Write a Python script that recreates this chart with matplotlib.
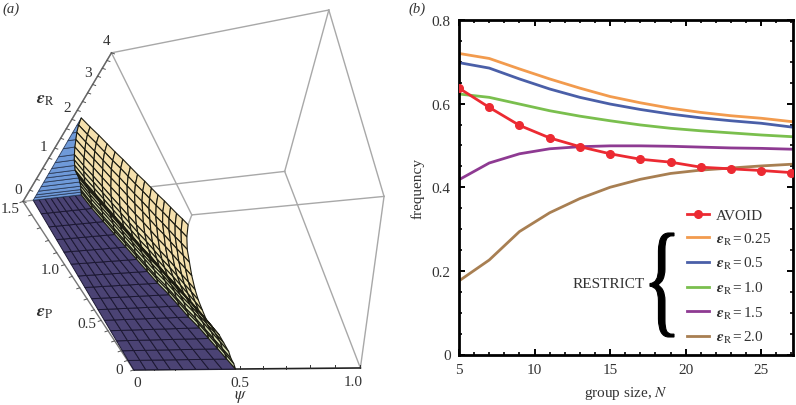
# coding=utf-8
# (a) 3D region plot drawn by hand with a fitted camera, (b) frequency vs group size
import matplotlib
matplotlib.use("Agg")
import matplotlib.pyplot as plt
import numpy as np
from matplotlib.collections import PolyCollection
from matplotlib.font_manager import FontProperties
from matplotlib.patches import PathPatch
from matplotlib.textpath import TextPath
from matplotlib.transforms import Affine2D
from matplotlib.ticker import MultipleLocator

plt.rcParams['font.family'] = ['Liberation Serif', 'DejaVu Serif']
plt.rcParams['mathtext.fontset'] = 'stix'

# panel (b) data
group_size = [5, 7, 9, 11, 13, 15, 17, 19, 21, 23, 25, 27]
avoid   = [.637, .591, .548, .518, .497, .480, .467, .460, .448, .444, .440, .435]
r_025   = [.720, .708, .683, .659, .637, .617, .602, .589, .579, .571, .565, .557]
r_05    = [.698, .685, .659, .635, .615, .599, .586, .575, .566, .559, .553, .544]
r_10    = [.623, .615, .599, .583, .570, .559, .549, .541, .535, .530, .525, .521]
r_15    = [.418, .458, .480, .492, .497, .499, .499, .498, .496, .494, .493, .491]
r_20    = [.176, .226, .294, .339, .373, .400, .419, .433, .441, .446, .451, .455]
r_labels = ['0.25', '0.5', '1.0', '1.5', '2.0']
r_colors = ['#f29b4e', '#4a5fa8', '#7abf4e', '#8e3a92', '#a87f52']

# panel (a) data: surface over epsP, rows of the wall as a fraction of its height
eps_p      = [0, .1, .2, .3, .4, .5, .6, .7, .8, .9, 1.0, 1.1, 1.2, 1.3, 1.4, 1.5]
psi_floor  = [.48, .465, .45, .435, .42, .40, .385, .37, .35, .335, .32, .305, .29, .275, .26, .25]
psi_left   = [.0, .003, .006, .009, .012, .015, .018, .021, .024, .027, .03, .033, .036, .039, .042, .045]
r_top      = [3.7, 3.59, 3.47, 3.36, 3.25, 3.13, 3.02, 2.91, 2.79, 2.68, 2.57, 2.45, 2.34, 2.23, 2.11, 2.0]
wall_frac  = [0, .03, .06, .1, .15, .2, .25, .3, .36, .43, .5, .6, .7, .8, .9, 1.0]
wall_shape = [1, .97, .93, .89, .82, .75, .66, .57, .50, .42, .35, .26, .18, .10, .04, 0]

# box corners (psi, epsP, epsR) and where they sit in the image
box_3d = [(0, 0, 0), (1, 0, 0), (0, 1.5, 0), (1, 1.5, 0),
          (0, 0, 4), (1, 0, 4), (0, 1.5, 4), (1, 1.5, 4)]
box_2d = [(133, 370), (361, 369), (23, 203), (285, 173),
          (192, 217), (384, 197), (112, 53), (328, 11)]


def fit_camera(p3, p2):
    rows = []
    for (x, y, z), (u, v) in zip(p3, p2):
        rows.append([x, y, z, 1, 0, 0, 0, 0, -u*x, -u*y, -u*z, -u])
        rows.append([0, 0, 0, 0, x, y, z, 1, -v*x, -v*y, -v*z, -v])
    return np.linalg.svd(np.array(rows, float))[2][-1].reshape(3, 4)


cam = fit_camera(box_3d, box_2d)


def proj(psi, ep, er):
    h = cam @ np.array([psi, ep, er, 1.0])
    return h[0]/h[2], h[1]/h[2]


fig = plt.figure(figsize=(7.96, 4.06), dpi=100)

# ---- panel (a), the axes is the whole figure in pixels
ax3 = fig.add_axes([0, 0, 1, 1])
ax3.set_xlim(0, 796)
ax3.set_ylim(406, 0)
ax3.axis('off')

txt = '#333333'
box_edges = [(2, 6), (6, 4), (4, 5), (5, 7), (7, 6), (7, 3), (3, 1), (1, 5), (3, 2), (4, 0)]
for a, b in box_edges:
    pa, pb = proj(*box_3d[a]), proj(*box_3d[b])
    ax3.plot([pa[0], pb[0]], [pa[1], pb[1]], color='#a8a8a8', lw=1.0, zorder=1)

# axis lines and ticks
p0, p1 = proj(0, 0, 0), proj(1, 0, 0)
ax3.plot([p0[0], p1[0]], [p0[1], p1[1]], color='#222222', lw=1.2, zorder=1.5)
p0, p1 = proj(0, 0, 0), proj(0, 1.5, 0)
ax3.plot([p0[0], p1[0]], [p0[1], p1[1]], color='#777777', lw=1.0, zorder=1.5)
p0, p1 = proj(0, 1.5, 0), proj(0, 1.5, 4)
ax3.plot([p0[0], p1[0]], [p0[1], p1[1]], color='#666666', lw=1.0, zorder=1.5)
for t in np.arange(0, 1.01, .1):
    x, y = proj(t, 0, 0)
    ax3.plot([x, x], [y, y-3], color='#333333', lw=.7, zorder=1.5)
for t in np.arange(0, 1.51, .1):
    x, y = proj(0, t, 0)
    ax3.plot([x, x-3], [y, y+1], color='#555555', lw=.7, zorder=1.5)
for t in np.arange(0, 4.01, .25):
    x, y = proj(0, 1.5, t)
    ax3.plot([x, x+3], [y, y+1], color='#555555', lw=.7, zorder=1.5)

# tick labels
for t, s, dx, dy in [(0, '0', 3, 13), (.5, '0.5', 0, 13), (1, '1.0', -7, 14)]:
    x, y = proj(t, 0, 0)
    ax3.text(x+dx, y+dy, s, ha='center', va='center', fontsize=11, color=txt)
for t, s, dx, dy in [(0, '0', -15, 0), (.5, '0.5', -14, 3), (1, '1.0', -14, 5), (1.5, '1.5', -13, 7)]:
    x, y = proj(0, t, 0)
    ax3.text(x+dx, y+dy, s, ha='center', va='center', fontsize=11, color=txt)
for t, s in [(0, '0'), (1, '1'), (2, '2'), (3, '3'), (4, '4')]:
    x, y = proj(0, 1.5, t)
    ax3.text(x-5, y-12, s, ha='center', va='center', fontsize=11, color=txt)
ax3.text(241, 397, r'$\psi$', ha='center', va='center', fontsize=12, color=txt)
ax3.text(45, 99, r'$\boldsymbol{\epsilon}_{\mathrm{R}}$', ha='center', va='center', fontsize=13, color=txt)
ax3.text(45, 313, r'$\boldsymbol{\epsilon}_{\mathrm{P}}$', ha='center', va='center', fontsize=13, color=txt)
ax3.text(2, 9, '(a)', style='italic', ha='left', va='center', fontsize=10.5, color=txt)
ax3.text(408, 9, '(b)', style='italic', ha='left', va='center', fontsize=10.5, color=txt)

# floor
floor = []
n_col = 8
for i in range(len(eps_p)-1):
    for j in range(n_col):
        f0, f1 = j/n_col, (j+1)/n_col
        a0 = psi_left[i] + f0*(psi_floor[i]-psi_left[i])
        a1 = psi_left[i] + f1*(psi_floor[i]-psi_left[i])
        b0 = psi_left[i+1] + f0*(psi_floor[i+1]-psi_left[i+1])
        b1 = psi_left[i+1] + f1*(psi_floor[i+1]-psi_left[i+1])
        floor.append([proj(a0, eps_p[i], 0), proj(a1, eps_p[i], 0),
                      proj(b1, eps_p[i+1], 0), proj(b0, eps_p[i+1], 0)])
ax3.add_collection(PolyCollection(floor, facecolor='#4b4374', edgecolor='#1c1833', lw=.7, zorder=2))

# blue back wall
blue = []
for k in range(len(wall_frac)-1):
    ep = eps_p[-1]
    left = psi_left[-1]
    r0, r1 = wall_frac[k]*r_top[-1], wall_frac[k+1]*r_top[-1]
    p_a = left + wall_shape[k]*(psi_floor[-1]-left)
    p_b = left + wall_shape[k+1]*(psi_floor[-1]-left)
    blue.append([proj(left, ep, r0), proj(p_a, ep, r0), proj(p_b, ep, r1), proj(left, ep, r1)])
ax3.add_collection(PolyCollection(blue, facecolor='#6f9ad9', edgecolor='#2c3d5c', lw=.6, zorder=2.1))

# yellow wall
wall = []
wall_c = []
low, high = np.array([.82, .87, .70]), np.array([.96, .88, .68])
for i in range(len(eps_p)-1, 0, -1):
    for k in range(len(wall_frac)-1, 0, -1):
        q = []
        for ii, kk in [(i, k), (i-1, k), (i-1, k-1), (i, k-1)]:
            left = psi_left[ii]
            q.append(proj(left + wall_shape[kk]*(psi_floor[ii]-left), eps_p[ii], wall_frac[kk]*r_top[ii]))
        wall.append(q)
        wall_c.append(low + (high-low)*min(1, wall_frac[k]*1.6))
ax3.add_collection(PolyCollection(wall, facecolors=wall_c, edgecolor='#1c1c12', lw=.8, zorder=2.2))

# ---- panel (b)
ax = fig.add_axes([459/796, 1-355.5/406, (793-459)/796, (355.5-21)/406])
ax.patch.set_alpha(0)
for vals, c, lab in zip([r_025, r_05, r_10, r_15, r_20], r_colors, r_labels):
    ax.plot(group_size, vals, color=c, lw=2, label=r'$\boldsymbol{\epsilon}_{\mathrm{R}}\,$=$\,$' + lab, zorder=2)
ax.plot(group_size, avoid, color='#ec2a32', lw=2, marker='o', ms=5.5, label='AVOID', zorder=3)

ax.set_xlim(5, 27.1)
ax.set_ylim(0, .8)
ax.set_xticks([5, 10, 15, 20, 25])
ax.set_yticks([0, .2, .4, .6, .8])
ax.set_yticklabels(['0', '0.2', '0.4', '0.6', '0.8'])
ax.xaxis.set_minor_locator(MultipleLocator(1))
ax.yaxis.set_minor_locator(MultipleLocator(.05))
ax.tick_params(which='major', direction='in', length=4, width=1.4, top=True, right=True,
               labelsize=11, labelcolor=txt, pad=6)
ax.tick_params(which='minor', direction='in', length=2.5, width=1.2, top=True, right=True)
for s in ax.spines.values():
    s.set_linewidth(2)
ax.set_xlabel('group size, $N$', fontsize=11, color=txt, labelpad=6)
ax.set_ylabel('frequency', fontsize=11, color=txt, labelpad=5)

handles, labels = ax.get_legend_handles_labels()
order = [5, 0, 1, 2, 3, 4]
ax.legend([handles[i] for i in order], [labels[i] for i in order], frameon=False,
          loc='lower left', bbox_to_anchor=(.655, .0), fontsize=11, labelcolor=txt,
          handlelength=1.45, handletextpad=.42, labelspacing=.56, borderpad=.3, borderaxespad=.3)

# big brace next to RESTRICT
ax3.text(573, 285, 'RESTRICT', ha='left', va='center', fontsize=11, color=txt, zorder=5)
tp = TextPath((0, 0), '{', size=100, prop=FontProperties(family='Liberation Serif'))
bb = tp.get_extents()
tr = (Affine2D().translate(-bb.x0, -bb.y0)
      .scale(24/bb.width, -104/bb.height).translate(650, 338))
ax3.add_patch(PathPatch(tp, transform=tr + ax3.transData, facecolor='black', edgecolor='black', lw=.8, zorder=5))
ax3.set_zorder(ax.get_zorder()+1)
ax3.patch.set_alpha(0)

fig.savefig('out.png', dpi=100)
